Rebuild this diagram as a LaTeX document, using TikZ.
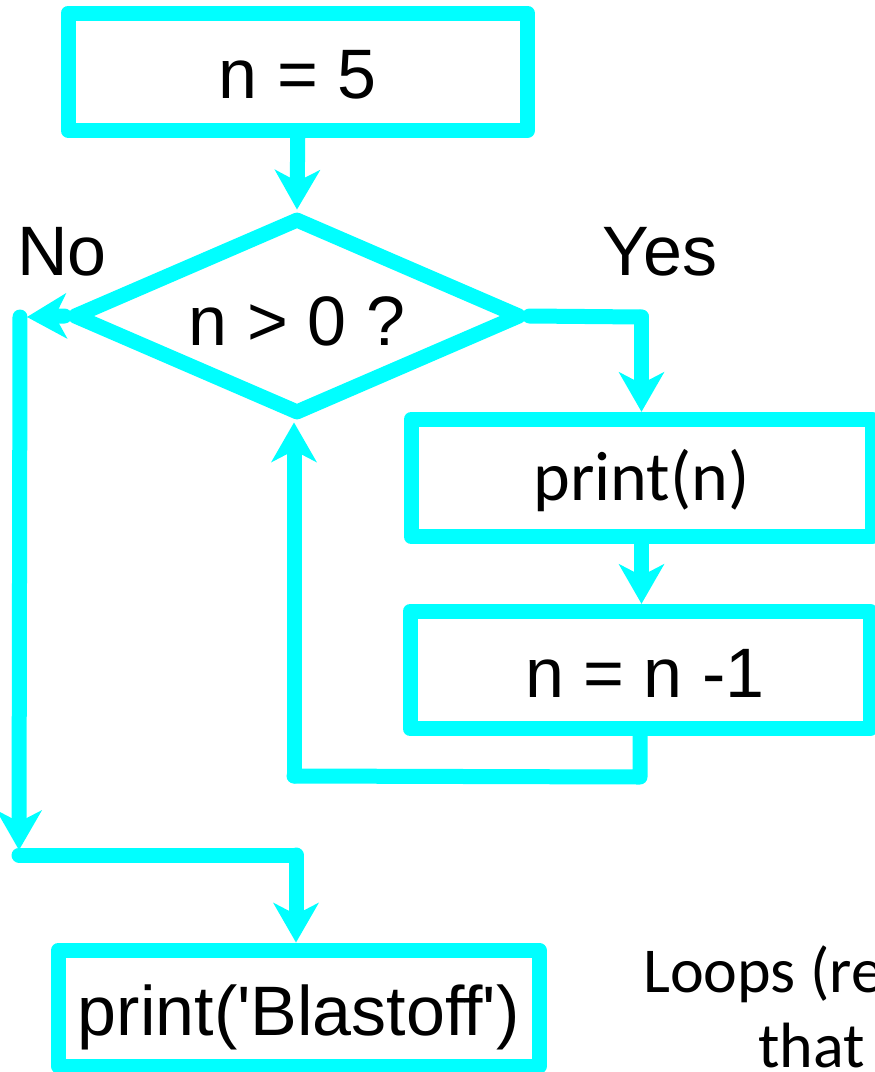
\documentclass[tikz,border=0pt]{standalone}
\usepackage{fontspec}
\setmainfont{Liberation Sans}[Ligatures=TeXOff]
\newfontfamily\calfont{Carlito}
\usetikzlibrary{arrows.meta,shapes.geometric}
\definecolor{aqua}{RGB}{0,255,255}
\begin{document}
\begin{tikzpicture}[x=1pt,y=-1pt,
  big/.style={font=\fontsize{70}{84}\selectfont},
  box/.style={rectangle, draw=aqua, line width=15pt, line join=round, inner sep=0pt, big, text height=54pt, text depth=0pt},
  lk/.style={draw=aqua, line width=15pt, line cap=round, line join=round},
  arr/.style={lk, -{Stealth[length=40pt,width=46pt,inset=12pt,line width=0pt]}},
  lbl/.style={big, anchor=base, inner sep=0pt},
  side/.style={font=\calfont\fontsize{64}{77}\selectfont, anchor=base west, inner sep=0pt}]
\useasboundingbox (0,0) rectangle (875,1072);
% boxes
\node[box, minimum width=459.5pt, minimum height=117.5pt] (n5) at (297.75,71.75) {n = 5};
\node[diamond, draw=aqua, line width=15pt, line join=round, aspect=2.27, inner sep=0pt,
      minimum width=450pt, minimum height=198pt, big, text height=58pt, text depth=0pt] (dia) at (297,316) {n > 0 ?};
\node[box, font=\calfont\fontsize{70}{84}\selectfont, text height=54pt, text depth=10pt,
      minimum width=461pt, minimum height=117.5pt] (pn) at (641.5,478) {print(n)};
\node[box, minimum width=460pt, minimum height=117.5pt] (nn) at (640,670) {\hspace{10pt}n = n -1};
\node[box, minimum width=480.5pt, minimum height=116pt] (bo) at (298.75,1008) {print('Blastoff')};
% labels
\node[lbl] (no) at (62,275) {No};
\node[lbl] (yes) at (660,275) {Yes};
\node[side] (t1) at (643,992) {Loops (re};
\node[side] (t2) at (758,1067) {that};
% corner points
\coordinate (cL) at (20,317);
\coordinate (cLB) at (19,855);
\coordinate (cM) at (296,855);
\coordinate (cR) at (641.5,317);
\coordinate (cB) at (640,777);
\coordinate (cB2) at (294,776);
% connectors
\draw[arr] (n5.south) -- (dia.north);
\draw[arr] (dia.west) -- ([xshift=7pt]cL);
\draw[arr] (cL) -- ([yshift=5pt]cLB);
\draw[lk] (cLB) -- (cM);
\draw[arr] (cM) -- (cM |- bo.north);
\draw[lk] (dia.east) -- (cR);
\draw[arr] (cR) -- (cR |- pn.north);
\draw[arr] (pn.south) -- (pn.south |- nn.north);
\draw[lk] (nn.south) -- (cB) -- (cB2);
\draw[arr] (cB2) -- (cB2 |- dia.south);
\end{tikzpicture}
\end{document}
